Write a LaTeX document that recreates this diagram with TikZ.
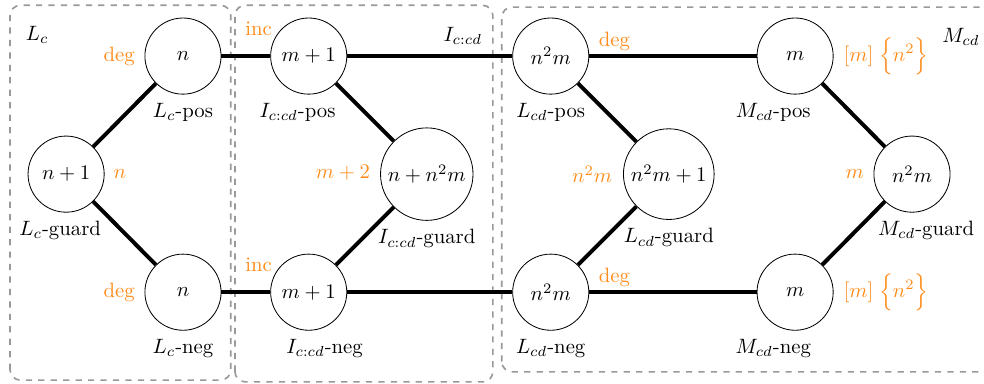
\documentclass[tikz,border=0pt]{standalone}
\usepackage{xcolor}
\usepackage{amsmath}
\usepackage{amssymb}
\usepackage{tikz}
\usetikzlibrary{positioning}

\definecolor{wtorange}{RGB}{255,140,26}

\begin{document}
\begin{tikzpicture}[
    state/.style={circle, draw=black, minimum size=1.29cm, inner sep=2.5pt},
    wire/.style={line width=1.9pt, black},
    tag/.style={inner sep=1pt},
    wt/.style={text=wtorange, inner sep=1pt},
    gadget/.style={draw=gray!80, dashed, thick, rounded corners=5pt}
]
    \useasboundingbox (0,0) rectangle (16.67,6.49);

    % Gadget boxes - dashed frames
    \draw[gadget] (0.17,0.05) rectangle (3.91,6.40);
    \draw[gadget] (3.98,0.02) rectangle (8.35,6.40);
    \draw[gadget] (8.50,0.19) rectangle (17.00,6.37);

    % Gadget names
    \node[tag] (lcname) at (0.63,5.90) {$L_c$};
    \node[tag] (icname) at (7.84,5.88) {$I_{c:cd}$};
    \node[tag] (mcdname) at (16.28,5.86) {$M_{cd}$};

    % L_c gadget
    \node[state] (lcguard) at (1.12,3.54) {$n+1$};
    \node[state] (lcpos) at (3.10,5.54) {$n$};
    \node[state] (lcneg) at (3.10,1.54) {$n$};

    % I_{c:cd} gadget
    \node[state] (icpos) at (5.23,5.54) {$m+1$};
    \node[state] (icguard) at (7.23,3.54) {$n+n^2m$};
    \node[state] (icneg) at (5.23,1.54) {$m+1$};

    % L_cd gadget
    \node[state] (lcdpos) at (9.33,5.54) {$n^2m$};
    \node[state] (lcdguard) at (11.33,3.54) {$n^2m+1$};
    \node[state] (lcdneg) at (9.33,1.54) {$n^2m$};

    % M_cd gadget
    \node[state] (mcdpos) at (13.47,5.54) {$m$};
    \node[state] (mcdguard) at (15.45,3.54) {$n^2m$};
    \node[state] (mcdneg) at (13.47,1.54) {$m$};

    % Vertex names below the circles
    \node[tag, below=3pt of lcpos] (lcpostag) {$L_c$-pos};
    \node[tag, below=3pt of lcguard, xshift=-0.1cm] (lcguardtag) {$L_c$-guard};
    \node[tag, below=3pt of lcneg] (lcnegtag) {$L_c$-neg};
    \node[tag, below=3pt of icpos, xshift=-0.19cm] (icpostag) {$I_{c:cd}$-pos};
    \node[tag, below=3pt of icguard] (icguardtag) {$I_{c:cd}$-guard};
    \node[tag, below=3pt of icneg, xshift=0.27cm] (icnegtag) {$I_{c:cd}$-neg};
    \node[tag, below=3pt of lcdpos] (lcdpostag) {$L_{cd}$-pos};
    \node[tag, below=3pt of lcdguard] (lcdguardtag) {$L_{cd}$-guard};
    \node[tag, below=3pt of lcdneg] (lcdnegtag) {$L_{cd}$-neg};
    \node[tag, below=3pt of mcdpos, xshift=-0.37cm] (mcdpostag) {$M_{cd}$-pos};
    \node[tag, below=3pt of mcdguard, xshift=0.24cm] (mcdguardtag) {$M_{cd}$-guard};
    \node[tag, below=3pt of mcdneg, xshift=-0.37cm] (mcdnegtag) {$M_{cd}$-neg};

    % Weights in orange
    \node[wt] (lcposw) at ([shift={(-1.08,0)}]lcpos) {deg};
    \node[wt] (lcnegw) at ([shift={(-1.08,0)}]lcneg) {deg};
    \node[wt] (lcguardw) at ([shift={(0.91,0)}]lcguard) {$n$};
    \node[wt] (icposw) at ([shift={(-0.85,0.47)}]icpos) {inc};
    \node[wt] (icnegw) at ([shift={(-0.85,0.47)}]icneg) {inc};
    \node[wt] (icguardw) at ([shift={(-1.42,0.03)}]icguard) {$m+2$};
    \node[wt] (lcdposw) at ([shift={(1.08,0.24)}]lcdpos) {deg};
    \node[wt] (lcdnegw) at ([shift={(1.08,0.25)}]lcdneg) {deg};
    \node[wt] (lcdguardw) at ([shift={(-1.30,0)}]lcdguard) {$n^2m$};
    \node[wt] (mcdguardw) at ([shift={(-0.97,0)}]mcdguard) {$m$};
    \node[wt] (mcdposw) at ([shift={(1.54,0)}]mcdpos) {$[m]\;\Big\{n^2\Big\}$};
    \node[wt] (mcdnegw) at ([shift={(1.54,0)}]mcdneg) {$[m]\;\Big\{n^2\Big\}$};

    % Edges inside the gadgets
    \draw[wire] (lcguard) -- (lcpos);
    \draw[wire] (lcguard) -- (lcneg);
    \draw[wire] (icpos) -- (icguard);
    \draw[wire] (icguard) -- (icneg);
    \draw[wire] (lcdpos) -- (lcdguard);
    \draw[wire] (lcdguard) -- (lcdneg);
    \draw[wire] (mcdpos) -- (mcdguard);
    \draw[wire] (mcdguard) -- (mcdneg);

    % Edges between the gadgets
    \draw[wire] (lcpos) -- (icpos);
    \draw[wire] (lcneg) -- (icneg);
    \draw[wire] (icpos) -- (lcdpos);
    \draw[wire] (icneg) -- (lcdneg);
    \draw[wire] (lcdpos) -- (mcdpos);
    \draw[wire] (lcdneg) -- (mcdneg);

\end{tikzpicture}
\end{document}
